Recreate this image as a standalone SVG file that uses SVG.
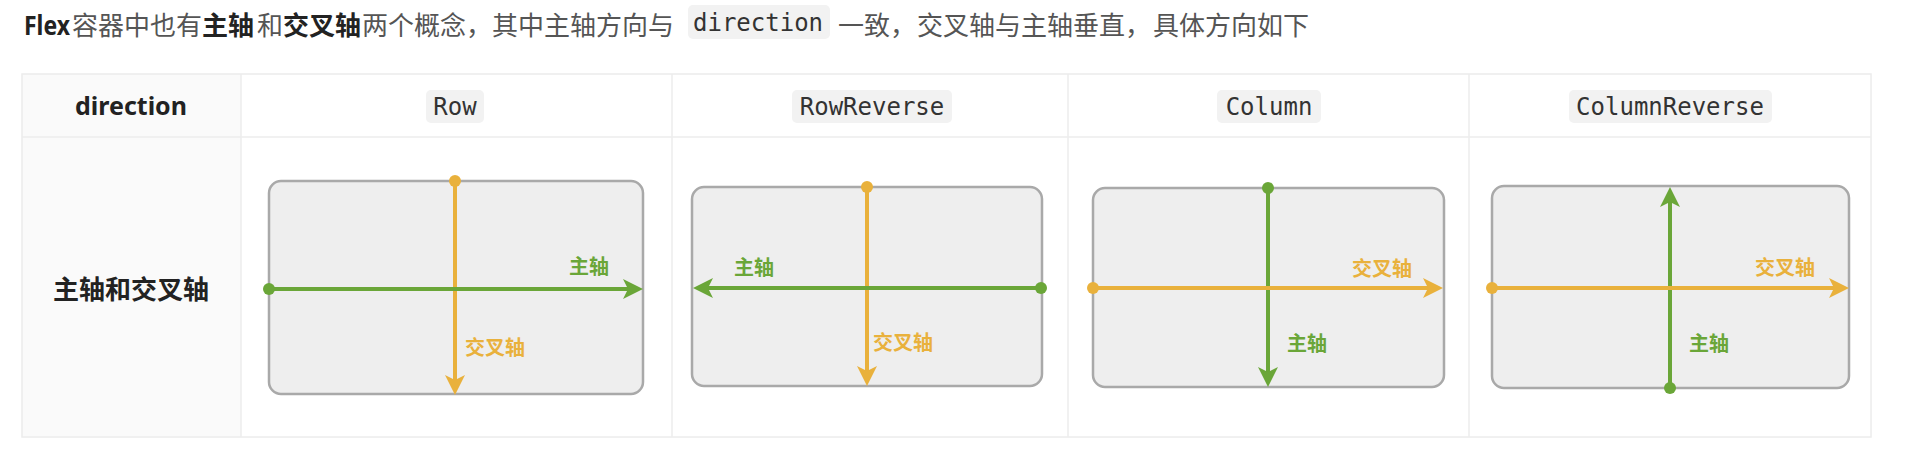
<svg xmlns="http://www.w3.org/2000/svg" width="1920" height="460" viewBox="0 0 1920 460">
  <style>
    .t { font-family: "Noto Sans", "Noto Sans CJK SC", sans-serif; font-size: 26px; fill: #555555; }
    .b { font-weight: bold; fill: #222222; }
    .code { font-family: "DejaVu Sans Mono", "Liberation Mono", monospace; font-size: 24px; fill: #333333; }
    .pill { fill: #f2f2f2; }
    .grid { stroke: #ececec; stroke-width: 1.5; fill: none; }
    .box { fill: #eeeeee; stroke: #a9a9a9; stroke-width: 2.5; }
    .lg { stroke: #6aa638; stroke-width: 4; fill: none; }
    .lo { stroke: #e9b13c; stroke-width: 4; fill: none; }
    .lbl { font-family: "Noto Sans CJK SC", sans-serif; font-size: 20px; font-weight: bold; }
    .gtx { fill: #6aa638; }
    .otx { fill: #e9b13c; }
  </style>
  <defs>
    <marker id="arrG" viewBox="0 0 20 20" refX="8" refY="10" markerWidth="20" markerHeight="20" markerUnits="userSpaceOnUse" orient="auto">
      <path d="M0,0 L20,10 L0,20 L5,10 Z" fill="#6aa638"/>
    </marker>
    <marker id="arrO" viewBox="0 0 20 20" refX="8" refY="10" markerWidth="20" markerHeight="20" markerUnits="userSpaceOnUse" orient="auto">
      <path d="M0,0 L20,10 L0,20 L5,10 Z" fill="#e9b13c"/>
    </marker>
    <marker id="dotG" viewBox="0 0 12 12" refX="6" refY="6" markerWidth="12" markerHeight="12" markerUnits="userSpaceOnUse">
      <circle cx="6" cy="6" r="6" fill="#6aa638"/>
    </marker>
    <marker id="dotO" viewBox="0 0 12 12" refX="6" refY="6" markerWidth="12" markerHeight="12" markerUnits="userSpaceOnUse">
      <circle cx="6" cy="6" r="6" fill="#e9b13c"/>
    </marker>
  </defs>
  <rect width="1920" height="460" fill="#ffffff"/>

  <g id="title">
    <text class="t b" x="24" y="35" textLength="46" lengthAdjust="spacingAndGlyphs">Flex</text>
    <text class="t" y="35"><tspan x="72">容器中也有</tspan><tspan class="b" x="202">主轴</tspan><tspan x="257">和</tspan><tspan class="b" x="283">交叉轴</tspan><tspan x="362">两个概念，其中主轴方向与</tspan></text>
    <rect class="pill" x="688" y="5" width="142" height="34" rx="5"/>
    <text class="code" x="693" y="31">direction</text>
    <text class="t" y="35"><tspan x="838">一致，</tspan><tspan x="917">交叉轴与主轴垂直，</tspan><tspan x="1153">具体方向如下</tspan></text>
  </g>

  <g id="table">
    <rect x="22" y="74" width="219" height="363" fill="#fafafa"/>
    <rect class="grid" x="22" y="74" width="1849" height="363"/>
    <line class="grid" x1="22" y1="137" x2="1871" y2="137"/>
    <line class="grid" x1="241" y1="74" x2="241" y2="437"/>
    <line class="grid" x1="672" y1="74" x2="672" y2="437"/>
    <line class="grid" x1="1068" y1="74" x2="1068" y2="437"/>
    <line class="grid" x1="1469" y1="74" x2="1469" y2="437"/>
  </g>

  <g id="header-direction">
    <text class="t b" x="131" y="115" text-anchor="middle" style="font-size:25px">direction</text>
  </g>
  <g id="header-row">
    <rect class="pill" x="426" y="90" width="58" height="33" rx="5"/>
    <text class="code" x="455" y="115" text-anchor="middle">Row</text>
  </g>
  <g id="header-rowreverse">
    <rect class="pill" x="792" y="90" width="160" height="33" rx="5"/>
    <text class="code" x="872" y="115" text-anchor="middle">RowReverse</text>
  </g>
  <g id="header-column">
    <rect class="pill" x="1217" y="90" width="104" height="33" rx="5"/>
    <text class="code" x="1269" y="115" text-anchor="middle">Column</text>
  </g>
  <g id="header-columnreverse">
    <rect class="pill" x="1569" y="90" width="203" height="33" rx="5"/>
    <text class="code" x="1670" y="115" text-anchor="middle">ColumnReverse</text>
  </g>

  <g id="row-label">
    <text class="t b" x="131" y="299" text-anchor="middle" style="font-family:'Noto Sans CJK SC',sans-serif">主轴和交叉轴</text>
  </g>

  <g id="box-row">
    <rect class="box" x="269" y="181" width="374" height="213" rx="12"/>
    <text class="lbl gtx" x="569" y="274">主轴</text>
    <text class="lbl otx" x="465" y="355">交叉轴</text>
  </g>
  <g id="box-rowreverse">
    <rect class="box" x="692" y="187" width="350" height="199" rx="12"/>
    <text class="lbl gtx" x="734" y="275">主轴</text>
    <text class="lbl otx" x="873" y="350">交叉轴</text>
  </g>
  <g id="box-column">
    <rect class="box" x="1093" y="188" width="351" height="199" rx="12"/>
    <text class="lbl otx" x="1352" y="276">交叉轴</text>
    <text class="lbl gtx" x="1287" y="351">主轴</text>
  </g>
  <g id="box-columnreverse">
    <rect class="box" x="1492" y="186" width="357" height="202" rx="12"/>
    <text class="lbl otx" x="1755" y="275">交叉轴</text>
    <text class="lbl gtx" x="1689" y="351">主轴</text>
  </g>

  <g id="connectors">
    <line class="lo" x1="455" y1="181" x2="455" y2="383" marker-start="url(#dotO)" marker-end="url(#arrO)"/>
    <line class="lg" x1="269" y1="289" x2="631" y2="289" marker-start="url(#dotG)" marker-end="url(#arrG)"/>

    <line class="lo" x1="867" y1="187" x2="867" y2="374" marker-start="url(#dotO)" marker-end="url(#arrO)"/>
    <line class="lg" x1="1041" y1="288" x2="705" y2="288" marker-start="url(#dotG)" marker-end="url(#arrG)"/>

    <line class="lg" x1="1268" y1="188" x2="1268" y2="375" marker-start="url(#dotG)" marker-end="url(#arrG)"/>
    <line class="lo" x1="1093" y1="288" x2="1431" y2="288" marker-start="url(#dotO)" marker-end="url(#arrO)"/>

    <line class="lg" x1="1670" y1="388" x2="1670" y2="199" marker-start="url(#dotG)" marker-end="url(#arrG)"/>
    <line class="lo" x1="1492" y1="288" x2="1837" y2="288" marker-start="url(#dotO)" marker-end="url(#arrO)"/>
  </g>
</svg>
